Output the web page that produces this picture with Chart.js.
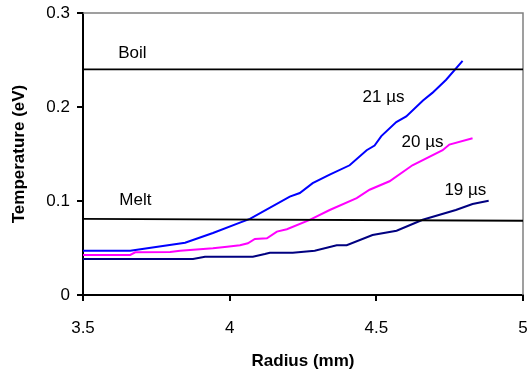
<!DOCTYPE html>
<html>
<head>
<meta charset="utf-8">
<script src="https://cdn.jsdelivr.net/npm/chart.js@4"></script>
<style>
html,body{margin:0;padding:0;background:#fff;}
#box{width:530px;height:376px;}
</style>
</head>
<body>
<div id="box"><canvas id="chartarea"></canvas></div>
<script>
// data (radius in mm, temperature in eV)
const r21=[3.5,3.661,3.848,3.943,4.035,4.069,4.205,4.239,4.283,4.341,4.409,4.467,4.494,4.517,4.568,4.602,4.659,4.691,4.738,4.794];
const t21=[0.047,0.047,0.0556,0.066,0.077,0.081,0.1046,0.1085,0.119,0.128,0.138,0.154,0.159,0.169,0.184,0.19,0.207,0.215,0.229,0.249];
const r20=[3.5,3.661,3.678,3.797,3.831,3.943,3.991,4.035,4.062,4.086,4.127,4.161,4.195,4.273,4.341,4.433,4.477,4.545,4.623,4.726,4.749,4.828];
const t20=[0.0426,0.0426,0.0454,0.0457,0.047,0.0497,0.0514,0.053,0.055,0.0596,0.0603,0.0674,0.070,0.080,0.0904,0.103,0.112,0.121,0.138,0.154,0.160,0.1667];
const r19=[3.5,3.875,3.916,4.079,4.12,4.137,4.215,4.29,4.365,4.399,4.487,4.569,4.658,4.771,4.828,4.883];
const t19=[0.0383,0.0383,0.0408,0.0408,0.0436,0.045,0.045,0.047,0.053,0.053,0.0638,0.0684,0.080,0.0904,0.0968,0.1003];
const boilR=[3.5,5];
const boilT=[0.24,0.24];
const meltR=[3.5,5];
const meltT=[0.081,0.079];

const xTicks=["3.5","4","4.5","5"];
const yTicks=["0","0.1","0.2","0.3"];

// text labels on the plot and where they sit (data units, left edge / middle)
const noteText=["Boil","Melt","21 \u00b5s","20 \u00b5s","19 \u00b5s"];
const noteR=[3.62,3.624,4.453,4.586,4.732];
const noteT=[0.2574,0.1003,0.2106,0.1628,0.1117];

const FONT="'Liberation Sans', Arial, sans-serif";

function pts(xs,ys){
  return xs.map((x,i)=>({x:x,y:ys[i]}));
}

const frame={
  id:"frame",
  beforeDatasetsDraw(chart){
    const a=chart.chartArea;
    const c=chart.ctx;
    c.save();
    c.strokeStyle="#808080";
    c.lineWidth=1.5;
    c.beginPath();
    c.moveTo(a.left,a.top);
    c.lineTo(a.right,a.top);
    c.lineTo(a.right,a.bottom);
    c.stroke();
    c.restore();
  },
  afterDatasetsDraw(chart){
    const c=chart.ctx;
    const xs=chart.scales.x, ys=chart.scales.y;
    c.save();
    c.fillStyle="#000";
    c.font="17px "+FONT;
    c.textAlign="left";
    c.textBaseline="middle";
    let i=0;
    while(i<noteText.length){
      c.fillText(noteText[i],xs.getPixelForValue(noteR[i]),ys.getPixelForValue(noteT[i]));
      i++;
    }
    c.restore();
  }
};

function line(data,color,w){
  return {data:data,borderColor:color,backgroundColor:color,borderWidth:w,
    showLine:true,pointRadius:0,tension:0,fill:false};
}

new Chart(document.getElementById("chartarea"),{
  type:"scatter",
  data:{
    datasets:[
      line(pts(boilR,boilT),"#000",1.8),
      line(pts(meltR,meltT),"#000",1.8),
      line(pts(r19,t19),"#000080",2),
      line(pts(r20,t20),"#ff00ff",2),
      line(pts(r21,t21),"#0000ff",2)
    ]
  },
  options:{
    responsive:true,
    maintainAspectRatio:false,
    animation:false,
    layout:{padding:{top:13,right:7,left:0,bottom:0}},
    plugins:{legend:{display:false},tooltip:{enabled:false}},
    scales:{
      x:{
        type:"linear",min:3.5,max:5,
        afterFit(s){s.height=81;s.paddingLeft=0;s.paddingRight=0;},
        ticks:{stepSize:0.5,color:"#000",padding:17,maxRotation:0,
          font:{family:FONT,size:17},
          callback:(v,i)=>xTicks[i]},
        grid:{drawOnChartArea:false,drawTicks:true,tickLength:6,color:"#000",lineWidth:2},
        border:{color:"#000",width:2},
        title:{display:true,text:"Radius (mm)",color:"#000",padding:{top:4,bottom:4},
          font:{family:FONT,size:17,weight:"bold"}}
      },
      y:{
        min:0,max:0.3,
        afterFit(s){s.width=83;s.paddingTop=0;s.paddingBottom=0;},
        ticks:{stepSize:0.1,color:"#000",padding:7,
          font:{family:FONT,size:17},
          callback:(v,i)=>yTicks[i]},
        grid:{drawOnChartArea:false,drawTicks:true,tickLength:6,color:"#000",lineWidth:2},
        border:{color:"#000",width:2},
        title:{display:true,text:"Temperature (eV)",color:"#000",padding:{top:9,bottom:9},
          font:{family:FONT,size:17,weight:"bold"}}
      }
    }
  },
  plugins:[frame]
});
</script>
</body>
</html>
